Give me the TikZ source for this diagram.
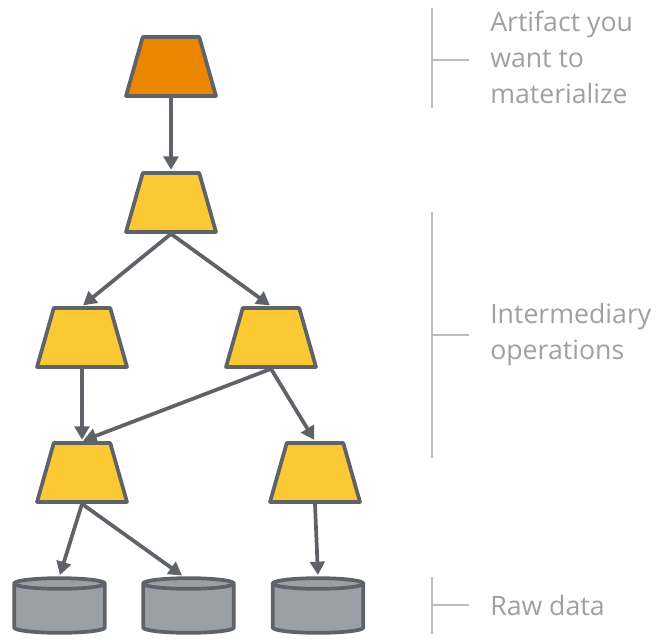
\documentclass[tikz,border=0pt]{standalone}
\usepackage{fontspec}
\setmainfont{Open Sans}
\usepackage{xcolor}
\usepackage{tikz}
\usetikzlibrary{arrows.meta,positioning,shapes.geometric}

\definecolor{opedge}{HTML}{5F6368}
\definecolor{artifact}{HTML}{EA8600}
\definecolor{interop}{HTML}{FBC934}
\definecolor{rawfill}{HTML}{9AA0A6}
\definecolor{note}{HTML}{A0A0A0}
\definecolor{bracket}{HTML}{BDBDBD}

\begin{document}
\begin{tikzpicture}[
  x=0.75pt,y=-0.75pt,
  op/.style={trapezium,trapezium stretches=true,trapezium left angle=73.5,trapezium right angle=73.5,
    minimum width=67.5pt,minimum height=44.25pt,draw=opedge,line width=2.8pt,line join=round,fill=interop,inner sep=2pt},
  data/.style={cylinder,shape border rotate=90,shape aspect=2,minimum width=68pt,minimum height=41pt,
    draw=opedge,line width=2.8pt,fill=rawfill,inner sep=2pt},
  arr/.style={-{Triangle[length=10pt,width=11pt]},draw=opedge,line width=2.8pt,shorten >=1pt},
  brk/.style={draw=bracket,line width=1.5pt},
  lbl/.style={anchor=west,align=left,text=note,font=\fontsize{20}{27}\selectfont,inner sep=0pt}
]
\useasboundingbox (0,0) rectangle (659,638);

% operations
\node[op,fill=artifact] (target) at (171,66.5) {};
\node[op] (opA) at (171,202.5) {};
\node[op] (opB) at (82,337.5) {};
\node[op] (opC) at (271,337.5) {};
\node[op] (opD) at (82,472.5) {};
\node[op] (opE) at (315,472.5) {};

% raw data
\node[data] (raw1) at (59.5,610) {};
\node[data] (raw2) at (188.5,610) {};
\node[data] (raw3) at (318,610) {};

\draw[arr] (target.south) -- (opA.north);
\draw[arr] (opA.south) -- (opB.north);
\draw[arr] (opA.south) -- (opC.north);
\draw[arr] (opB.south) -- (opD.north);
\draw[arr] (opC.south) -- (opD.north);
\draw[arr] (opC.south) -- (opE.north);
\draw[arr] (opD.south) -- (raw1.north);
\draw[arr] (opD.south) -- ([xshift=-4pt]raw2.north);
\draw[arr] (opE.south) -- (raw3.north);

% brackets and labels
\coordinate (artTop) at (432,8);
\coordinate (artBot) at (432,108);
\coordinate (artTick) at (469,60);
\draw[brk] (artTop) -- (artBot) (artTick -| artTop) -- (artTick);
\node[lbl] (artLbl) at (490,57) {Artifact you\\want to\\materialize};

\coordinate (midTop) at (432,212);
\coordinate (midBot) at (432,458);
\coordinate (midTick) at (469,335);
\draw[brk] (midTop) -- (midBot) (midTick -| midTop) -- (midTick);
\node[lbl] (midLbl) at (490,335) {Intermediary\\operations};

\coordinate (rawTop) at (432,577);
\coordinate (rawBot) at (432,634);
\coordinate (rawTick) at (469,605);
\draw[brk] (rawTop) -- (rawBot) (rawTick -| rawTop) -- (rawTick);
\node[lbl] (rawLbl) at (490,605) {Raw data};
\end{tikzpicture}
\end{document}
